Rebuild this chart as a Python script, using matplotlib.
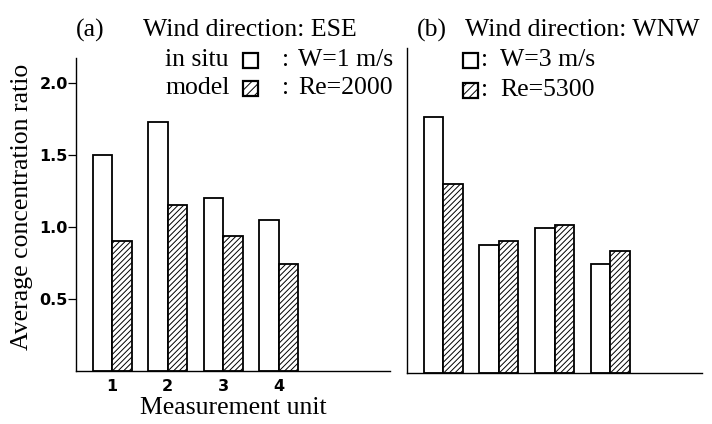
import matplotlib.pyplot as plt
from matplotlib.patches import Rectangle

plt.rcParams['hatch.linewidth'] = 0.7

# measurement units and average concentration ratios
units = [1, 2, 3, 4]
ese_insitu = [1.50, 1.73, 1.20, 1.05]
ese_model = [0.90, 1.15, 0.94, 0.74]
wnw_insitu = [1.78, 0.89, 1.01, 0.76]
wnw_model = [1.31, 0.92, 1.03, 0.85]
yticks = [0.5, 1.0, 1.5, 2.0]

W, H = 712, 424
SERIF = 'Liberation Serif'
FS = 18.5

fig = plt.figure(figsize=(W / 100, H / 100), dpi=100)


def px_box(x0, y0, x1, y1):
    # pixel box (top-left origin) -> figure fraction rect
    return [x0 / W, 1 - y1 / H, (x1 - x0) / W, (y1 - y0) / H]


def draw_bars(ax, insitu, model):
    xs = [u - 0.175 for u in units]
    xm = [u + 0.175 for u in units]
    ax.bar(xs, insitu, width=0.35, color='white', edgecolor='black', linewidth=1.3, zorder=2)
    ax.bar(xm, model, width=0.35, color='white', edgecolor='black', linewidth=1.3,
           hatch='//////', zorder=2)
    for s in ['top', 'right']:
        ax.spines[s].set_visible(False)
    for s in ['left', 'bottom']:
        ax.spines[s].set_linewidth(1.0)


ax1 = fig.add_axes(px_box(76, 58, 390, 371))
draw_bars(ax1, ese_insitu, ese_model)
ax1.set_xlim(0.35, 6.0)
ax1.set_ylim(0, (371 - 58) / 144)
ax1.set_yticks(yticks)
ax1.set_yticklabels([f'{v:.1f}' for v in yticks])
ax1.set_xticks(units)
ax1.set_xticklabels([str(u) for u in units])
ax1.tick_params(axis='y', direction='out', length=6, width=0.9, pad=0)
ax1.tick_params(axis='x', length=0, pad=6)
for lab in ax1.get_xticklabels() + ax1.get_yticklabels():
    lab.set_fontfamily('DejaVu Sans')
    lab.set_fontsize(11.5)
    lab.set_fontweight('semibold')
ax1.set_xlabel('Measurement unit', fontsize=FS, family=SERIF, labelpad=2)

ax2 = fig.add_axes(px_box(407, 48, 702, 373))
draw_bars(ax2, wnw_insitu, wnw_model)
ax2.set_xlim(0.35, 5.65)
ax2.set_ylim(0, (373 - 48) / 144)
ax2.set_xticks([])
ax2.set_yticks([])


def ftext(x, y, s, ha='left', rot=0):
    fig.text(x / W, 1 - y / H, s, fontsize=FS, family=SERIF, ha=ha, va='center',
             rotation=rot)


def fsquare(x, y, hatched):
    r = Rectangle((x / W, 1 - (y + 7.5) / H), 15 / W, 15 / H, transform=fig.transFigure,
                  facecolor='white', edgecolor='black', linewidth=1.6,
                  hatch='////' if hatched else None)
    fig.add_artist(r)


ftext(22, 207, 'Average concentration ratio', ha='center', rot=90)

# panel (a) header and key
ftext(90, 30, '(a)', ha='center')
ftext(143, 30, 'Wind direction: ESE')
ftext(165, 60, 'in situ')
fsquare(243, 60, False)
ftext(282, 60, ':')
ftext(298, 60, 'W=1 m/s')
ftext(165, 88, 'model')
fsquare(243, 88, True)
ftext(282, 88, ':')
ftext(298, 88, 'Re=2000')

# panel (b) header and key
ftext(432, 30, '(b)', ha='center')
ftext(465, 30, 'Wind direction: WNW')
fsquare(463, 60, False)
ftext(481, 60, ':')
ftext(500, 60, 'W=3 m/s')
fsquare(463, 90, True)
ftext(481, 90, ':')
ftext(500, 90, 'Re=5300')

fig.savefig('out.png', dpi=100)
